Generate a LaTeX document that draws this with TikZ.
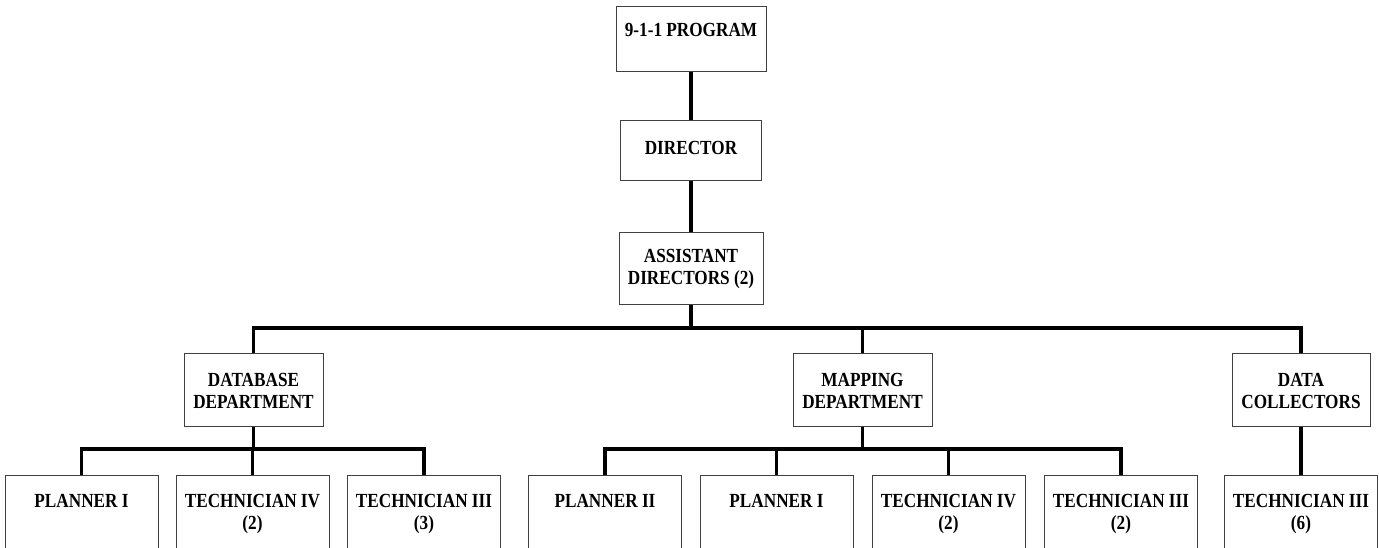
\documentclass[tikz,border=0pt]{standalone}
\usepackage{fontspec}
\setmainfont{Liberation Serif}[FakeStretch=0.86]
\begin{document}
\begin{tikzpicture}[x=1pt,y=-1pt,
  box/.style={draw=black!75, line width=0.9pt, rectangle, anchor=north,
    inner sep=0pt, align=center, font=\fontsize{20}{22}\selectfont\bfseries},
  leaf/.style={box, minimum width=153pt, text height=32.3pt, text depth=110pt},
  leaftwo/.style={leaf, text height=54.3pt, text depth=90pt},
  dept/.style={box, minimum width=139pt, text height=55pt, text depth=17.7pt},
  conn/.style={line width=3.6pt, line join=miter}]
\clip (0,0) rectangle (1379,547);
\fill[white] (0,0) rectangle (1379,547);

% top of the chart
\node[box, minimum width=150pt, text height=30.5pt, text depth=34.5pt] (prog) at (691,6) {9-1-1 PROGRAM};
\node[box, minimum width=141pt, text height=34pt, text depth=26pt] (dir) at (691,120) {DIRECTOR};
\node[box, minimum width=144pt, text height=51.7pt, text depth=20.3pt] (asst) at (691,232) {ASSISTANT\\DIRECTORS (2)};

% departments
\node[dept] (db) at (253.5,353.3) {DATABASE\\DEPARTMENT};
\node[dept] (map) at (862.5,353.3) {MAPPING\\DEPARTMENT};
\node[dept, minimum width=138pt] (dc) at (1301,353.3) {DATA\\COLLECTORS};

% staff positions
\node[leaf] (dbp1) at (81.5,475) {PLANNER I};
\node[leaftwo] (dbt4) at (252.5,475) {TECHNICIAN IV\\(2)};
\node[leaftwo] (dbt3) at (424,475) {TECHNICIAN III\\(3)};
\node[leaf] (mp2) at (605,475) {PLANNER II};
\node[leaf] (mp1) at (776.5,475) {PLANNER I};
\node[leaftwo] (mt4) at (948.5,475) {TECHNICIAN IV\\(2)};
\node[leaftwo] (mt3) at (1121,475) {TECHNICIAN III\\(2)};
\node[leaftwo] (dct3) at (1301,475) {TECHNICIAN III\\(6)};

% reporting lines
\coordinate (bus) at (0,328);
\coordinate (sub) at (0,449);
\draw[conn] (prog.south) -- (dir.north);
\draw[conn] (dir.south) -- (asst.north);
\draw[conn] (asst.south) -- (asst.south |- bus);
\draw[conn] (db.north) |- (dc.north |- bus) -- (dc.north);
\draw[conn] (map.north) -- (map.north |- bus);

\draw[conn] (db.south) -- (db.south |- sub);
\draw[conn] (dbp1.north) |- (dbt3.north |- sub) -- (dbt3.north);
\draw[conn] (dbt4.north) -- (dbt4.north |- sub);

\draw[conn] (map.south) -- (map.south |- sub);
\draw[conn] (mp2.north) |- (mt3.north |- sub) -- (mt3.north);
\draw[conn] (mp1.north) -- (mp1.north |- sub);
\draw[conn] (mt4.north) -- (mt4.north |- sub);

\draw[conn] (dc.south) -- (dct3.north);
\end{tikzpicture}
\end{document}
